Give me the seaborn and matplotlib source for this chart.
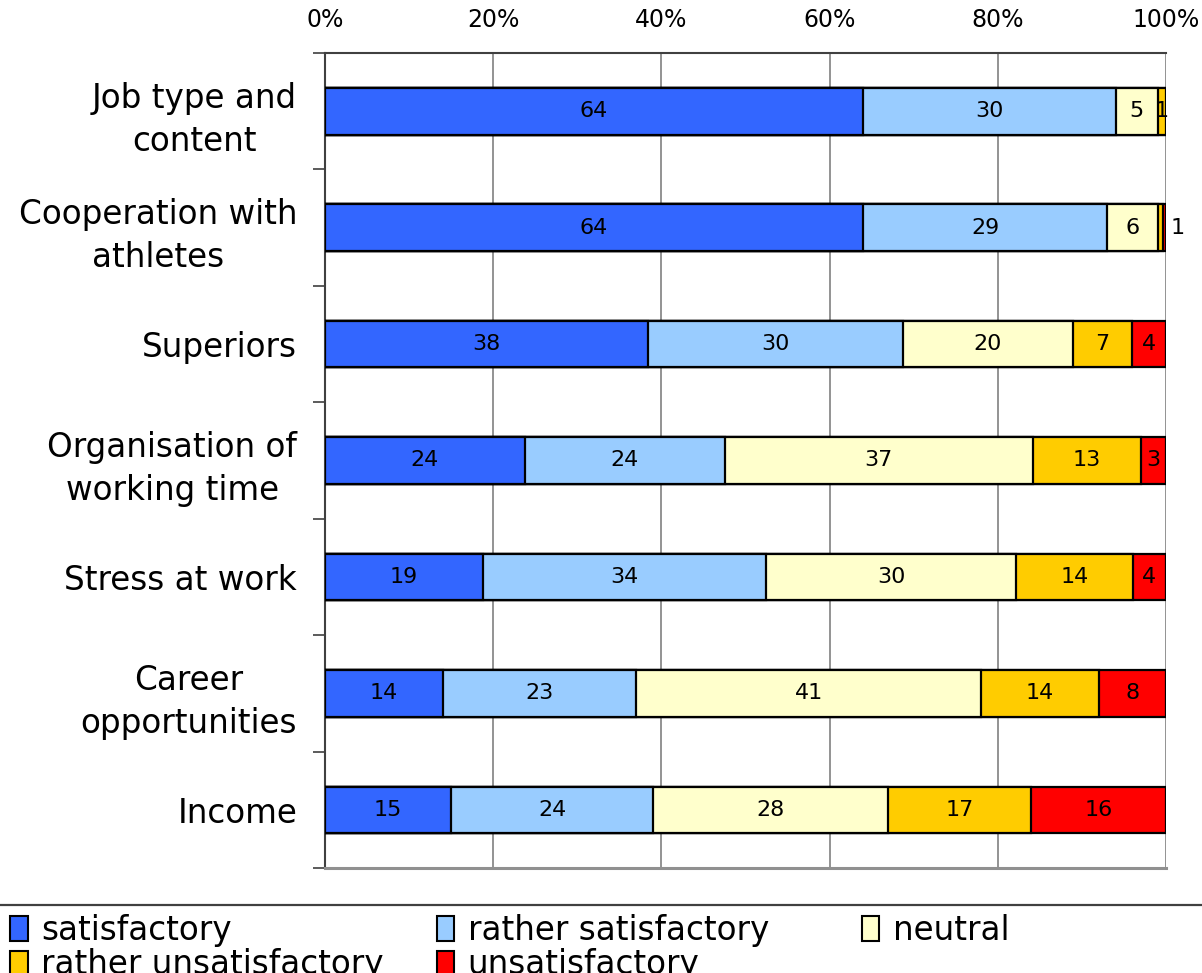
import numpy as np
import pandas as pd
import matplotlib
matplotlib.use("Agg")
import matplotlib.pyplot as plt
from matplotlib.patches import Patch
from matplotlib.lines import Line2D
from matplotlib.ticker import FixedLocator, PercentFormatter
import seaborn as sns

# ---- data ----
categories = ["Job type and\ncontent", "Cooperation with\nathletes", "Superiors",
              "Organisation of\nworking time", "Stress at work",
              "Career\nopportunities", "Income"]
series_names = ["satisfactory", "rather satisfactory", "neutral",
                "rather unsatisfactory", "unsatisfactory"]
satisfactory = [64, 64, 38, 24, 19, 14, 15]
rather_satisfactory = [30, 29, 30, 24, 34, 23, 24]
neutral = [5, 6, 20, 37, 30, 41, 28]
rather_unsatisfactory = [1, 0.7, 7, 13, 14, 14, 17]
unsatisfactory = [0, 0.3, 4, 3, 4, 8, 16]
x_ticks = [0, 20, 40, 60, 80, 100]
colors = ["#3366FF", "#99CCFF", "#FFFFCC", "#FFCC00", "#FF0000"]

sns.set_theme(style="white")
plt.rcParams["font.family"] = ["DejaVu Sans"]
plt.rcParams["text.color"] = "black"
plt.rcParams["xtick.color"] = "black"
plt.rcParams["ytick.color"] = "black"

vals = np.array([satisfactory, rather_satisfactory, neutral,
                 rather_unsatisfactory, unsatisfactory], dtype=float)
pct = vals / vals.sum(axis=0) * 100
cum = np.cumsum(pct, axis=0)

fig = plt.figure(figsize=(12.02, 9.73), dpi=100)
ax = fig.add_axes([325 / 1202, 1 - 868 / 973, (1166 - 325) / 1202, (868 - 53) / 973])

# draw cumulative bars from the outermost to innermost so segments stack
for i in range(len(series_names) - 1, -1, -1):
    df = pd.DataFrame({"cat": categories, "val": cum[i]})
    sns.barplot(data=df, x="val", y="cat", orient="h", color=colors[i],
                saturation=1, width=0.40, edgecolor="black", linewidth=1.6,
                ax=ax, zorder=3)

# segment labels
for j in range(len(categories)):
    tiny = 0.0
    for i in range(len(series_names)):
        v = vals[i, j]
        if v <= 0:
            continue
        if v < 1:
            tiny += v
            continue
        start = cum[i, j] - pct[i, j]
        ax.text(start + pct[i, j] / 2, j, f"{v:.0f}", ha="center", va="center",
                fontsize=16, color="black", zorder=5)
    if tiny > 0:
        ax.text(100.6, j, f"{tiny:.0f}", ha="left", va="center",
                fontsize=16, color="black", zorder=5, clip_on=False)

ax.set_xlim(0, 100)
ax.set_ylim(len(categories) - 0.5, -0.5)
ax.xaxis.set_major_locator(FixedLocator(x_ticks))
ax.xaxis.set_major_formatter(PercentFormatter(decimals=0))
ax.xaxis.tick_top()
ax.tick_params(axis="x", which="major", length=0, pad=15, labelsize=17,
               labelcolor="black", top=True, bottom=False)
ax.set_xlabel("")
ax.set_ylabel("")

ax.set_yticks(range(len(categories)))
ax.set_yticklabels(categories, fontsize=23.5, linespacing=1.38,
                   multialignment="center", color="black")
ax.tick_params(axis="y", which="major", length=0, pad=20, labelcolor="black")
ax.yaxis.set_minor_locator(FixedLocator(np.arange(-0.5, len(categories), 1.0)))
ax.tick_params(axis="y", which="minor", length=9, width=1.2,
               color="#404040", left=True, direction="out")

ax.grid(axis="x", color="#808080", linewidth=1.2, zorder=0)
ax.set_axisbelow(True)
for s in ["top", "left"]:
    ax.spines[s].set_color("#404040")
    ax.spines[s].set_linewidth(1.5)
ax.spines["bottom"].set_color("#909090")
ax.spines["bottom"].set_linewidth(2.2)
ax.spines["right"].set_visible(False)

# separator line above legend
fig.add_artist(Line2D([0, 1], [1 - 905 / 973, 1 - 905 / 973],
                      transform=fig.transFigure, color="#404040", linewidth=1.6))

handles = [Patch(facecolor=c, edgecolor="black", linewidth=1.5, label=n)
           for c, n in zip(colors, series_names)]
col_groups = [[0, 3], [1, 4], [2]]
col_x = [0.003, 430 / 1202, 855 / 1202]
for grp, x in zip(col_groups, col_x):
    leg = fig.legend(handles=[handles[k] for k in grp], loc="upper left",
                     bbox_to_anchor=(x, 1 - 907 / 973), frameon=False,
                     fontsize=23.5, handlelength=0.55, handleheight=0.8,
                     handletextpad=0.4, labelspacing=0.06, borderaxespad=0,
                     borderpad=0.2)
    for t in leg.get_texts():
        t.set_color("black")

fig.savefig("out.png", dpi=100, facecolor="white")
